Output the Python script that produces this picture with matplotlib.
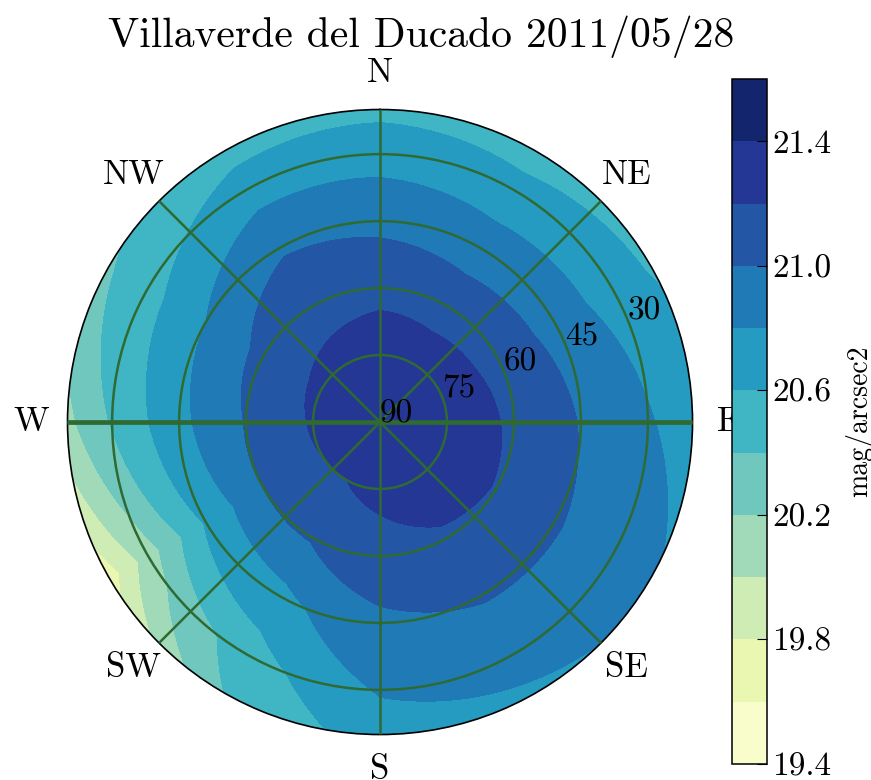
import numpy as np
import matplotlib
matplotlib.use("Agg")
import matplotlib.pyplot as plt
from matplotlib.path import Path

plt.rcParams["font.family"] = ["cmr10", "DejaVu Serif"]
plt.rcParams["mathtext.fontset"] = "cm"
plt.rcParams["axes.formatter.use_mathtext"] = True

TITLE = "Villaverde del Ducado 2011/05/28"

# sky brightness (mag/arcsec2) sampled on azimuth (deg, from N through E)
# and zenith distance (deg) rings
azimuth = [0, 30, 60, 90, 120, 150, 180, 210, 240, 270, 300, 330]
zenith = [0, 15, 30, 45, 60, 70]

sky_z00 = [21.36] * 12
sky_z15 = [21.30, 21.30, 21.30, 21.32, 21.32, 21.28, 21.25, 21.20, 21.20, 21.22, 21.24, 21.27]
sky_z30 = [21.15, 21.12, 21.14, 21.17, 21.19, 21.18, 21.12, 21.02, 21.00, 21.01, 21.06, 21.12]
sky_z45 = [20.95, 20.90, 20.92, 20.99, 21.02, 21.02, 20.96, 20.74, 20.62, 20.75, 20.80, 20.98]
sky_z60 = [20.72, 20.68, 20.70, 20.82, 20.88, 20.85, 20.82, 20.50, 20.10, 20.42, 20.52, 20.70]
sky_z70 = [20.55, 20.50, 20.58, 20.70, 20.82, 20.78, 20.70, 20.40, 19.70, 20.15, 20.38, 20.52]

levels = np.round(np.arange(19.4, 21.7, 0.2), 1)
cbar_ticks = [19.4, 19.8, 20.2, 20.6, 21.0, 21.4]
compass = ["N", "NE", "E", "SE", "S", "SW", "W", "NW"]
ring_radius = [0, 15, 30, 45, 60]
ring_label = ["90", "75", "60", "45", "30"]

GRID = "#2f6a32"


def densify(path, steps=30):
    # split every edge so that the outer ring follows the circle in polar space
    parts = []
    for poly in path.to_polygons(closed_only=True):
        segs = [np.linspace(poly[i], poly[i + 1], steps, endpoint=False)
                for i in range(len(poly) - 1)]
        verts = np.vstack(segs + [poly[:1]])
        parts.append(Path(verts, closed=True))
    if not parts:
        return path
    return Path.make_compound_path(*parts)


mag = np.array([sky_z00, sky_z15, sky_z30, sky_z45, sky_z60, sky_z70])
mag = np.hstack([mag, mag[:, :1]])  # close the circle at 360
theta = np.deg2rad(np.append(azimuth, 360))
T, R = np.meshgrid(theta, zenith)

fig = plt.figure(figsize=(8.71, 7.80), dpi=100)
ax = fig.add_axes([0.0775, 0.0583, 0.7176, 0.8013], projection="polar")
ax.set_theta_zero_location("N")
ax.set_theta_direction(-1)

cs = ax.contourf(T, R, mag, levels=levels, cmap="YlGnBu")
cs.set_paths([densify(p) for p in cs.get_paths()])

ax.set_rlim(0, 70)
ax.set_yticks(ring_radius[1:])
ax.set_yticklabels([])
ax.set_thetagrids(np.arange(0, 360, 45), labels=compass)
ax.tick_params(axis="x", length=0, pad=19, labelsize=25)
ax.set_axisbelow(False)
ax.grid(True, color=GRID, lw=1.8)
# the E-W line is drawn heavier
ax.axvline(np.pi / 2, color=GRID, lw=3.4, zorder=3)
ax.axvline(3 * np.pi / 2, color=GRID, lw=3.4, zorder=3)
ax.spines["polar"].set_linewidth(1.2)

for r, lab in zip(ring_radius, ring_label):
    ax.text(np.deg2rad(67.5), r, lab, fontsize=24, ha="left", va="baseline",
            zorder=4)

cax = fig.add_axes([0.8404, 0.0205, 0.0402, 0.8782])
cb = fig.colorbar(cs, cax=cax, ticks=cbar_ticks, format="%.1f")
cb.outline.set_linewidth(1.1)
cax.tick_params(direction="in", length=7, width=0.8, labelsize=24, pad=4)
cb.set_label("mag/arcsec2", fontsize=20, labelpad=10)

fig.text(0.4834, 0.9397, TITLE, fontsize=30, ha="center", va="baseline")

fig.savefig("out.png", dpi=100)
